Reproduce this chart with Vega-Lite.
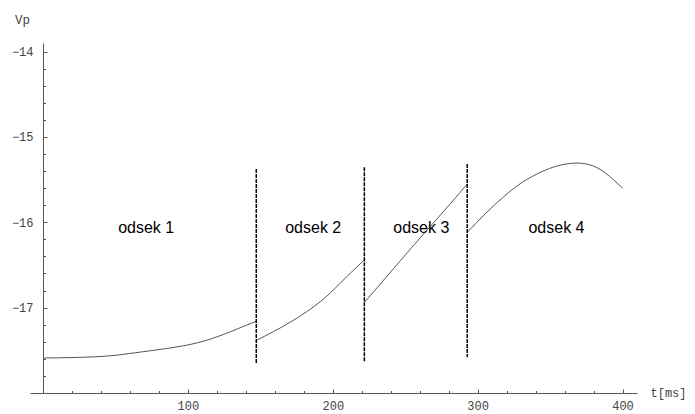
{
  "$schema": "https://vega.github.io/schema/vega-lite/v6.json",
  "width": 607,
  "height": 350,
  "autosize": {"type": "none"},
  "padding": {"left": 30, "top": 43, "right": 58, "bottom": 21},
  "background": "white",
  "config": {
    "view": {"stroke": null},
    "axis": {"grid": false, "labelFont": "Liberation Mono", "titleFont": "Liberation Mono", "labelColor": "#444", "titleColor": "#444", "domainColor": "#555", "tickColor": "#555", "titleFontWeight": "normal"}
  },
  "datasets": {
    "curve": [
      {"seg": 1, "t": 0, "v": -17.59},
      {"seg": 1, "t": 20, "v": -17.585},
      {"seg": 1, "t": 40, "v": -17.572},
      {"seg": 1, "t": 55, "v": -17.548},
      {"seg": 1, "t": 74, "v": -17.505},
      {"seg": 1, "t": 97, "v": -17.447},
      {"seg": 1, "t": 117, "v": -17.36},
      {"seg": 1, "t": 134, "v": -17.25},
      {"seg": 1, "t": 147.2, "v": -17.16},
      {"seg": 2, "t": 147.2, "v": -17.385},
      {"seg": 2, "t": 170.7, "v": -17.17},
      {"seg": 2, "t": 191.4, "v": -16.93},
      {"seg": 2, "t": 205.3, "v": -16.71},
      {"seg": 2, "t": 221.8, "v": -16.44},
      {"seg": 3, "t": 221.8, "v": -16.94},
      {"seg": 3, "t": 242.1, "v": -16.54},
      {"seg": 3, "t": 261.5, "v": -16.16},
      {"seg": 3, "t": 281.3, "v": -15.78},
      {"seg": 3, "t": 292.8, "v": -15.55},
      {"seg": 4, "t": 292.8, "v": -16.12},
      {"seg": 4, "t": 305, "v": -15.905},
      {"seg": 4, "t": 318, "v": -15.7},
      {"seg": 4, "t": 331, "v": -15.53},
      {"seg": 4, "t": 344, "v": -15.41},
      {"seg": 4, "t": 355, "v": -15.34},
      {"seg": 4, "t": 366, "v": -15.308},
      {"seg": 4, "t": 377, "v": -15.325},
      {"seg": 4, "t": 388, "v": -15.42},
      {"seg": 4, "t": 400, "v": -15.6}
    ],
    "dividers": [
      {"t": 147.2, "v1": -15.375, "v2": -17.66},
      {"t": 221.8, "v1": -15.356, "v2": -17.64},
      {"t": 292.8, "v1": -15.317, "v2": -17.58}
    ],
    "labels": [
      {"t": 71.2, "v": -16.13, "text": "odsek 1"},
      {"t": 186.5, "v": -16.13, "text": "odsek 2"},
      {"t": 261.1, "v": -16.13, "text": "odsek 3"},
      {"t": 354.4, "v": -16.13, "text": "odsek 4"}
    ]
  },
  "layer": [
    {
      "data": {"name": "curve"},
      "mark": {"type": "line", "stroke": "#555", "strokeWidth": 1, "interpolate": "natural"},
      "encoding": {
        "x": {
          "field": "t", "type": "quantitative",
          "scale": {"domain": [-9, 410], "nice": false, "zero": false},
          "axis": {
            "values": [20, 40, 60, 80, 100, 120, 140, 160, 180, 200, 220, 240, 260, 280, 300, 320, 340, 360, 380, 400],
            "tickCount": 100,
            "labelExpr": "datum.value % 100 === 0 ? format(datum.value, 'd') : ''",
            "labelOverlap": false,
            "labelFlush": false,
            "labelBound": false,
            "tickSize": {"condition": {"test": "datum.value % 100 === 0", "value": -4}, "value": -2.5},
            "labelPadding": 11,
            "labelFontSize": 12,
            "title": "t[ms]",
            "titleFontSize": 12,
            "titleAlign": "center",
            "titleBaseline": "middle",
            "titleX": 638,
            "titleY": -1
          }
        },
        "y": {
          "field": "v", "type": "quantitative",
          "scale": {"domain": [-18, -13.9], "nice": false, "zero": false},
          "axis": {
            "offset": -13,
            "values": [-17.8, -17.6, -17.4, -17.2, -17, -16.8, -16.6, -16.4, -16.2, -16, -15.8, -15.6, -15.4, -15.2, -15, -14.8, -14.6, -14.4, -14.2, -14],
            "tickCount": 100,
            "labelExpr": "abs(datum.value - round(datum.value)) < 0.001 ? format(datum.value, 'd') : ''",
            "labelOverlap": false,
            "labelFlush": false,
            "labelBound": false,
            "tickSize": {"condition": {"test": "abs(datum.value - round(datum.value)) < 0.001", "value": -4}, "value": -2.5},
            "labelPadding": 14,
            "labelFontSize": 12,
            "title": "Vp",
            "titleFontSize": 12.5,
            "titleAngle": 0,
            "titleAlign": "center",
            "titleBaseline": "middle",
            "titleX": -21,
            "titleY": -24
          }
        },
        "detail": {"field": "seg"}
      }
    },
    {
      "data": {"name": "dividers"},
      "mark": {"type": "rule", "strokeDash": [4, 1], "strokeWidth": 1.5, "color": "black"},
      "encoding": {
        "x": {"field": "t", "type": "quantitative"},
        "y": {"field": "v1", "type": "quantitative"},
        "y2": {"field": "v2"}
      }
    },
    {
      "data": {"name": "labels"},
      "mark": {"type": "text", "font": "Liberation Sans", "fontSize": 16, "color": "black", "baseline": "alphabetic", "align": "center"},
      "encoding": {
        "x": {"field": "t", "type": "quantitative"},
        "y": {"field": "v", "type": "quantitative"},
        "text": {"field": "text"}
      }
    }
  ]
}
